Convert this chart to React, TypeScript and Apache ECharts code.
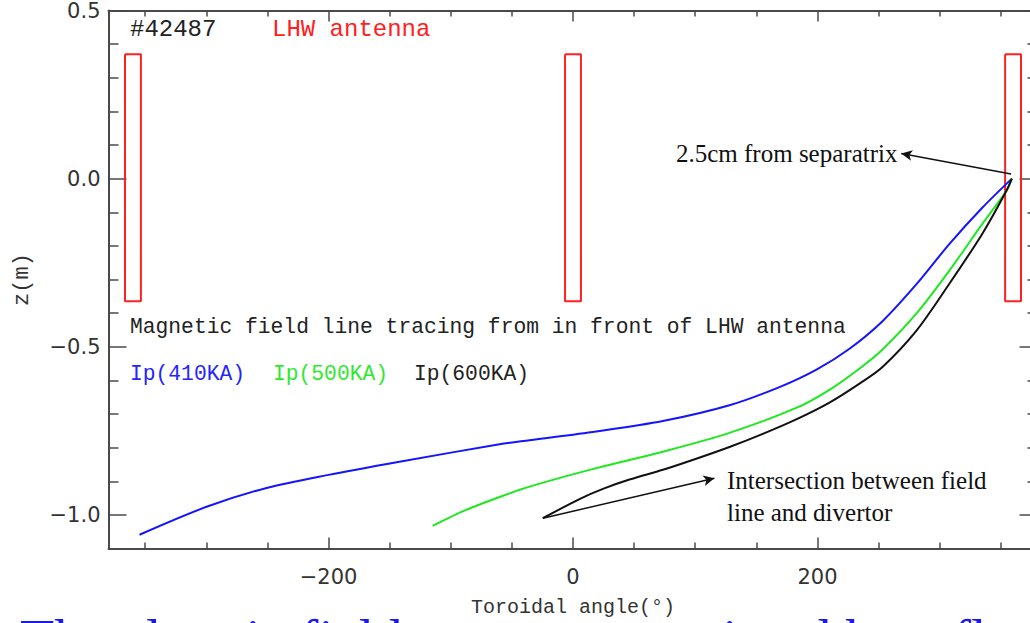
import React, { useEffect, useRef } from "react";
import * as echarts from "echarts";

// ---- axes ----
const xMin = -380;
const xMax = 380;
const yMin = -1.1;
const yMax = 0.5;
const xMajorTicks = [-200, 0, 200];
const xMinorTicks = [-350, -300, -250, -150, -100, -50, 50, 100, 150, 250, 300, 350];
const yMajorTicks = [-1.0, -0.5, 0.0, 0.5];
const yMinorTicks = [-0.9, -0.8, -0.7, -0.6, -0.4, -0.3, -0.2, -0.1, 0.1, 0.2, 0.3, 0.4];

// ---- field line traces: [toroidal angle (deg), z (m)] ----
const ip410: [number, number][] = [
  [-354.6, -1.059], [-299.8, -0.976], [-250.7, -0.92], [-200, -0.881], [-141.9, -0.842],
  [-60.1, -0.79], [-35.6, -0.778], [19, -0.752], [73.5, -0.721], [128, -0.674],
  [168.9, -0.62], [199.2, -0.568], [226.2, -0.506], [253.2, -0.424], [281, -0.314],
  [308, -0.194], [335, -0.086], [359, 0],
];
const ip500: [number, number][] = [
  [-114.9, -1.033], [-88, -0.986], [-60.1, -0.947], [-35.6, -0.916], [19, -0.861], [73.5, -0.812],
  [128, -0.756], [182.6, -0.682], [209.8, -0.628], [235, -0.563], [253.2, -0.508],
  [281, -0.401], [308, -0.273], [335, -0.134], [354.6, -0.036], [359, 0],
];
const ip600: [number, number][] = [
  [-24.7, -1.01], [5.3, -0.953], [25, -0.922], [46.2, -0.895], [73.5, -0.866],
  [100.8, -0.833], [128, -0.798], [155.3, -0.759], [182.6, -0.716], [209.8, -0.666],
  [235, -0.608], [253.2, -0.56], [281, -0.452], [308, -0.312], [335, -0.163],
  [354.6, -0.036], [359, 0],
];

// ---- LHW antenna boxes ----
const antennaCenters = [-360, 0, 360];
const antennaHalfWidth = 6.5;
const antennaTop = 0.37;
const antennaBottom = -0.365;

// ---- annotation arrows [from, to] ----
const arrowSeparatrix: [number, number][] = [[358.4, 0.014], [268.5, 0.075]];
const arrowDivertor: [number, number][] = [[-24.7, -1.01], [115.7, -0.891]];

const seriesNames = ["Ip(410KA)", "Ip(500KA)", "Ip(600KA)"];
const seriesColors = ["#1414ff", "#1ee81e", "#111111"];

const axisColor = "#4a4a4a";
const labelFont = "DejaVu Sans";
const mono = "Liberation Mono";
const serif = "Liberation Serif";

function fmtY(v: number) {
  const s = Math.abs(v).toFixed(1);
  return v < -1e-9 ? "\u2212" + s : s;
}
function fmtX(v: number) {
  return v < 0 ? "\u2212" + Math.abs(v) : String(v);
}

function xAxisDef(position: "top" | "bottom", major: boolean, withLabels: boolean): any {
  return {
    type: "value",
    position,
    min: xMin,
    max: xMax,
    splitLine: { show: false },
    axisLine: { show: major, onZero: false, lineStyle: { color: axisColor, width: 2 } },
    axisTick: {
      show: true,
      inside: true,
      length: major ? 11 : 6,
      customValues: major ? xMajorTicks : xMinorTicks,
      lineStyle: { color: axisColor, width: 1.5 },
    },
    axisLabel: withLabels
      ? {
          show: true,
          customValues: xMajorTicks,
          formatter: (v: number) => fmtX(v),
          fontFamily: labelFont,
          fontSize: 21,
          color: "#333",
          margin: 18,
        }
      : { show: false },
  };
}

function yAxisDef(position: "left" | "right", major: boolean, withLabels: boolean): any {
  return {
    type: "value",
    position,
    min: yMin,
    max: yMax,
    splitLine: { show: false },
    axisLine: { show: major, onZero: false, lineStyle: { color: axisColor, width: 2 } },
    axisTick: {
      show: true,
      inside: true,
      length: major ? 18 : 10,
      customValues: major ? yMajorTicks : yMinorTicks,
      lineStyle: { color: axisColor, width: 1.5 },
    },
    axisLabel: withLabels
      ? {
          show: true,
          customValues: yMajorTicks,
          formatter: (v: number) => fmtY(v),
          fontFamily: labelFont,
          fontSize: 21,
          color: "#333",
          margin: 8,
        }
      : { show: false },
  };
}

export default function App() {
  const ref = useRef<HTMLDivElement>(null);

  useEffect(() => {
    if (!ref.current) return;
    const chart = echarts.init(ref.current, undefined, { renderer: "svg" });

    const xAxes = [
      {
        ...xAxisDef("bottom", true, true),
        name: "Toroidal angle(\u00b0)",
        nameLocation: "middle",
        nameGap: 49,
        nameTextStyle: { fontFamily: mono, fontSize: 20, color: "#333" },
      },
      xAxisDef("bottom", false, false),
      xAxisDef("top", true, false),
      xAxisDef("top", false, false),
    ];
    const yAxes = [
      {
        ...yAxisDef("left", true, true),
        name: "z(m)",
        nameLocation: "middle",
        nameRotate: 90,
        nameGap: 75,
        nameTextStyle: { fontFamily: mono, fontSize: 22, color: "#333" },
      },
      yAxisDef("left", false, false),
      yAxisDef("right", true, false),
      yAxisDef("right", false, false),
    ];

    const antennaSeries = antennaCenters.map((c, i) => ({
      type: "line",
      name: "antenna" + i,
      xAxisIndex: 0,
      yAxisIndex: 0,
      showSymbol: false,
      silent: true,
      lineStyle: { color: "#ff2020", width: 2 },
      data: [
        [c - antennaHalfWidth, antennaTop],
        [c + antennaHalfWidth, antennaTop],
        [c + antennaHalfWidth, antennaBottom],
        [c - antennaHalfWidth, antennaBottom],
        [c - antennaHalfWidth, antennaTop],
      ],
    }));

    const traces = [ip410, ip500, ip600].map((d, i) => ({
      type: "line",
      name: seriesNames[i],
      xAxisIndex: 0,
      yAxisIndex: 0,
      showSymbol: false,
      smooth: 0.3,
      silent: true,
      lineStyle: { color: seriesColors[i], width: 2 },
      data: d,
      ...(i === 2
        ? {
            markLine: {
              silent: true,
              symbol: ["none", "arrow"],
              symbolSize: [8, 11],
              label: { show: false },
              lineStyle: { color: "#111", width: 1.5, type: "solid" },
              emphasis: { disabled: true },
              data: [
                [{ coord: arrowSeparatrix[0] }, { coord: arrowSeparatrix[1] }],
                [{ coord: arrowDivertor[0] }, { coord: arrowDivertor[1] }],
              ],
            },
          }
        : {}),
    }));

    const txt = (x: number, y: number, text: string, font: string, fill: string) => ({
      type: "text",
      x,
      y,
      silent: true,
      style: { text, font, fill, align: "left", verticalAlign: "middle" },
    });

    chart.setOption({
      animation: false,
      backgroundColor: "#ffffff",
      grid: { left: 108.5, top: 9.5, width: 929, height: 539, containLabel: false },
      xAxis: xAxes,
      yAxis: yAxes,
      series: [...antennaSeries, ...traces],
      graphic: [
        txt(130, 29.6, "#42487", `24px "${mono}"`, "#222"),
        txt(272, 29.6, "LHW antenna", `24px "${mono}"`, "#ff2020"),
        txt(130, 327.3, "Magnetic field line tracing from in front of LHW antenna", `21.3px "${mono}"`, "#222"),
        txt(130, 374.3, seriesNames[0], `21.3px "${mono}"`, "#2424ff"),
        txt(273, 374.3, seriesNames[1], `21.3px "${mono}"`, "#2ee82e"),
        txt(414, 374.3, seriesNames[2], `21.3px "${mono}"`, "#222"),
        txt(676, 153.6, "2.5cm from separatrix", `25px "${serif}"`, "#111"),
        txt(727, 480.6, "Intersection between field", `25px "${serif}"`, "#111"),
        txt(727, 512.6, "line and divertor", `25px "${serif}"`, "#111"),
        txt(20, 640, "The electric field", `56px "${serif}"`, "#1a1aee"),
        txt(601, 640, "associated heat flux", `56px "${serif}"`, "#1a1aee"),
      ],
    });

    return () => chart.dispose();
  }, []);

  return (
    <div
      style={{
        position: "absolute",
        left: 0,
        top: 0,
        width: 1030,
        height: 623,
        overflow: "hidden",
        background: "#fff",
      }}
    >
      <div ref={ref} style={{ width: 1050, height: 623 }} />
    </div>
  );
}
